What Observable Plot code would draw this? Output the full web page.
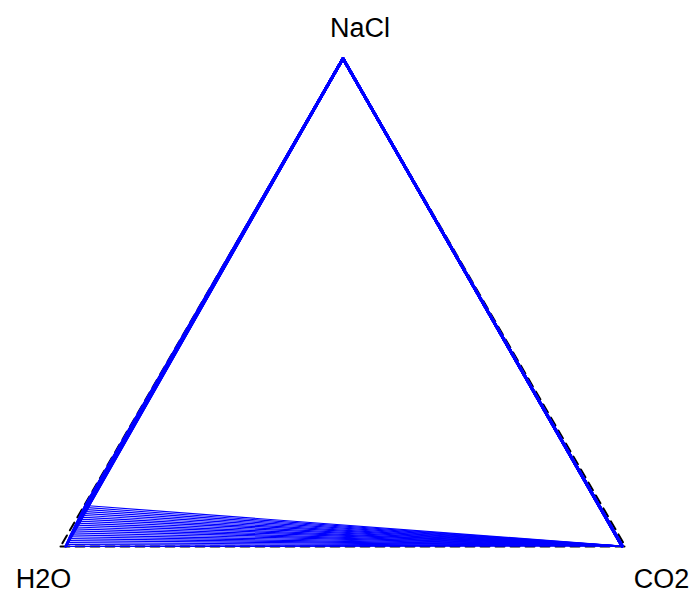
<!DOCTYPE html>
<html>
<head>
<meta charset="utf-8">
<script src="https://cdn.jsdelivr.net/npm/d3@7"></script>
<script src="https://cdn.jsdelivr.net/npm/@observablehq/plot@0.6"></script>
<style>
  html, body { margin: 0; padding: 0; background: #fff; }
</style>
</head>
<body>
<div id="chart"></div>
<script>
// Ternary system H2O – NaCl – CO2: three-phase triangles liquid + vapour + halite.

// Liquid compositions (mole fractions) on the brine side, near the H2O corner
const liquidNaCl = [0.000, 0.004, 0.008, 0.012, 0.016, 0.020, 0.024, 0.028, 0.032, 0.036, 0.040,
                    0.044, 0.048, 0.052, 0.056, 0.060, 0.064, 0.068, 0.072, 0.076, 0.080, 0.084];
const liquidCO2  = [0.0090, 0.0086, 0.0082, 0.0078, 0.0074, 0.0070, 0.0067, 0.0064, 0.0061, 0.0058, 0.0055,
                    0.0052, 0.0049, 0.0046, 0.0043, 0.0040, 0.0037, 0.0034, 0.0031, 0.0028, 0.0025, 0.0022];

// Coexisting vapour compositions near the CO2 corner
const vaporH2O  = [0.0050, 0.0050, 0.0051, 0.0051, 0.0052, 0.0052, 0.0053, 0.0053, 0.0054, 0.0054, 0.0055,
                   0.0055, 0.0056, 0.0056, 0.0057, 0.0057, 0.0058, 0.0058, 0.0059, 0.0059, 0.0060, 0.0060];
const vaporNaCl = [0.0010, 0.0010, 0.0010, 0.0010, 0.0010, 0.0010, 0.0010, 0.0010, 0.0010, 0.0010, 0.0010,
                   0.0010, 0.0010, 0.0010, 0.0010, 0.0010, 0.0010, 0.0010, 0.0010, 0.0010, 0.0010, 0.0010];

const H = Math.sqrt(3) / 2;
// barycentric (nacl, co2) -> cartesian
const tx = (nacl, co2) => co2 + nacl / 2;
const ty = (nacl) => nacl * H;

// corners of the diagram, with the offset of each label from its vertex
const corners = [
  {name: "H2O",  nacl: 0, co2: 0, dx: -17, dy: 33},
  {name: "CO2",  nacl: 0, co2: 1, dx: 36,  dy: 33},
  {name: "NaCl", nacl: 1, co2: 0, dx: 17,  dy: -30}
];
const boundary = [...corners, corners[0]].map(c => ({x: tx(c.nacl, c.co2), y: ty(c.nacl)}));

// vertices of each tie triangle
const S = {x: tx(1, 0), y: ty(1)};
const verts = liquidNaCl.map((n, i) => {
  const vCO2 = 1 - vaporH2O[i] - vaporNaCl[i];
  return {
    id: i,
    L: {x: tx(n, liquidCO2[i]), y: ty(n)},
    V: {x: tx(vaporNaCl[i], vCO2), y: ty(vaporNaCl[i])}
  };
});
// liquid–vapour tie lines
const tieLines = verts.flatMap(t => [{...t.L, id: t.id}, {...t.V, id: t.id}]);
// sides of each triangle running up to halite: vapour -> halite -> liquid
const haliteSides = verts.flatMap(t => [{...t.V, id: t.id}, {...S, id: t.id}, {...t.L, id: t.id}]);

const labels = corners.map(c => Plot.text([c], {
  x: d => tx(d.nacl, d.co2), y: d => ty(d.nacl), text: "name",
  dx: c.dx, dy: c.dy,
  fontSize: 27, fill: "black", textAnchor: "middle", lineAnchor: "middle"
}));

const chart = Plot.plot({
  width: 697,
  height: 594,
  marginLeft: 60,
  marginRight: 72,
  marginTop: 58,
  marginBottom: 48,
  x: {domain: [0, 1], axis: null},
  y: {domain: [0, H], axis: null},
  style: {fontFamily: "Liberation Sans, Arial, sans-serif", background: "#fff"},
  marks: [
    Plot.line(boundary, {x: "x", y: "y", stroke: "black", strokeWidth: 2, strokeDasharray: "9,6"}),
    Plot.line(haliteSides, {x: "x", y: "y", z: "id", stroke: "#0000ff", strokeWidth: 2.6}),
    Plot.line(tieLines, {x: "x", y: "y", z: "id", stroke: "#0000ff", strokeWidth: 1.2}),
    ...labels
  ]
});
document.getElementById("chart").appendChild(chart);
</script>
</body>
</html>
